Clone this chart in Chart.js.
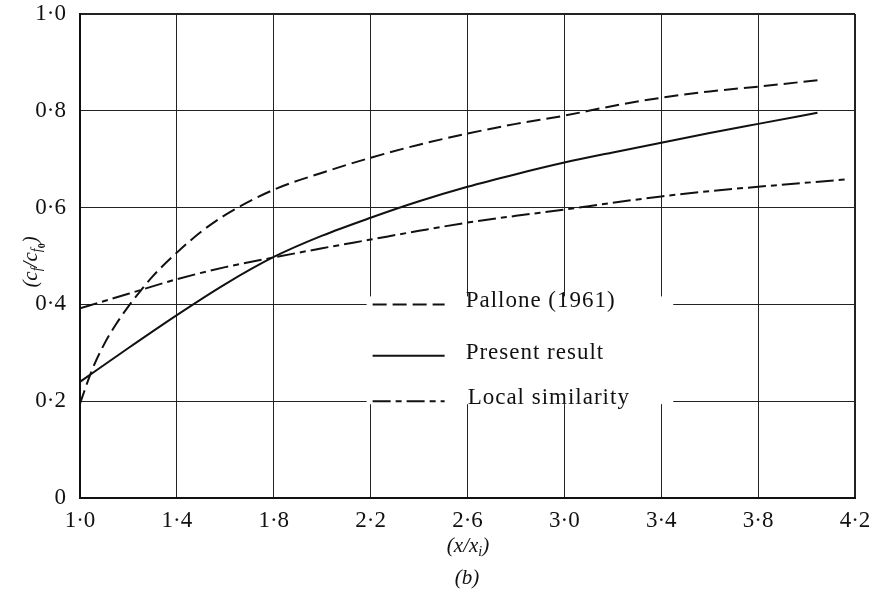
<!DOCTYPE html>
<html><head><meta charset="utf-8">
<script src="https://cdn.jsdelivr.net/npm/chart.js@4.4.0/dist/chart.umd.min.js"></script>
<style>html,body{margin:0;padding:0;background:#fff}#wrap{width:873px;height:594px}</style>
</head><body><div id="wrap"><canvas id="c" width="873" height="594"></canvas></div>
<script>
// ---- data ----
const xTickValues = [1.0, 1.4, 1.8, 2.2, 2.6, 3.0, 3.4, 3.8, 4.2];
const xTickLabels = ['1·0', '1·4', '1·8', '2·2', '2·6', '3·0', '3·4', '3·8', '4·2'];
const yTickValues = [0, 0.2, 0.4, 0.6, 0.8, 1.0];
const yTickLabels = ['0', '0·2', '0·4', '0·6', '0·8', '1·0'];
const seriesNames = ['Pallone (1961)', 'Present result', 'Local similarity'];

const palloneX = [1.0, 1.05, 1.1, 1.15, 1.2, 1.25, 1.3, 1.4, 1.5, 1.6, 1.8, 2.0, 2.2, 2.4, 2.6, 2.8, 3.0, 3.2, 3.4, 3.6, 3.8, 4.06];
const palloneY = [0.195, 0.265, 0.318, 0.36, 0.396, 0.428, 0.458, 0.507, 0.55, 0.585, 0.637, 0.672, 0.703, 0.73, 0.753, 0.773, 0.79, 0.81, 0.827, 0.84, 0.85, 0.864];

const presentX = [1.0, 1.2, 1.4, 1.6, 1.8, 2.0, 2.2, 2.4, 2.6, 2.8, 3.0, 3.2, 3.4, 3.6, 3.8, 4.045];
const presentY = [0.24, 0.31, 0.378, 0.442, 0.498, 0.542, 0.579, 0.613, 0.643, 0.669, 0.693, 0.714, 0.734, 0.754, 0.773, 0.796];

const localX = [1.0, 1.2, 1.4, 1.6, 1.8, 2.0, 2.2, 2.4, 2.6, 2.8, 3.0, 3.2, 3.4, 3.6, 3.8, 4.16];
const localY = [0.392, 0.422, 0.452, 0.477, 0.497, 0.516, 0.534, 0.552, 0.569, 0.583, 0.596, 0.61, 0.623, 0.634, 0.643, 0.658];

const dashes = [[14, 6], [], [18, 5, 6, 5]];

function pts(xs, ys) { return xs.map((x, i) => ({x: x, y: ys[i]})); }

const SERIF = '"Liberation Serif", "DejaVu Serif", serif';

const legendPlugin = {
  id: 'legendBox',
  afterDatasetsDraw(chart) {
    const ctx = chart.ctx, xs = chart.scales.x, ys = chart.scales.y;
    const left = xs.getPixelForValue(2.2) - 4;
    const right = xs.getPixelForValue(3.4) + 12;
    const top = ys.getPixelForValue(0.4) - 8;
    const bottom = ys.getPixelForValue(0.2) + 3;
    ctx.save();
    ctx.fillStyle = '#fff';
    ctx.fillRect(left, top, right - left, bottom - top);
    const rowsY = [ys.getPixelForValue(0.4), ys.getPixelForValue(0.3) + 3, ys.getPixelForValue(0.2)];
    const sx0 = left + 6, sx1 = left + 78;
    ctx.strokeStyle = '#111';
    ctx.lineWidth = 2;
    ctx.font = '23px ' + SERIF;
    try { ctx.letterSpacing = '1px'; } catch (e) {}
    ctx.fillStyle = '#111';
    ctx.textBaseline = 'middle';
    ctx.textAlign = 'left';
    for (let i = 0; i < 3; i++) {
      ctx.setLineDash(dashes[i]);
      ctx.beginPath();
      ctx.moveTo(sx0, rowsY[i]);
      ctx.lineTo(sx1, rowsY[i]);
      ctx.stroke();
      ctx.fillText(seriesNames[i], left + 99 + (i === 2 ? 2 : 0), rowsY[i] - 3);
    }
    ctx.restore();
  }
};

const titlePlugin = {
  id: 'titles',
  afterDraw(chart) {
    const ctx = chart.ctx;
    ctx.save();
    ctx.fillStyle = '#111';
    ctx.textBaseline = 'alphabetic';
    // x title (x/x_i)
    const cx = 468;
    const big = 'italic 21px ' + SERIF, small = 'italic 14px ' + SERIF;
    const p1 = '(x/x', p2 = ')';
    ctx.font = big; const w1 = ctx.measureText(p1).width;
    ctx.font = small; const wi = ctx.measureText('i').width;
    ctx.font = big; const w2 = ctx.measureText(p2).width;
    let x = cx - (w1 + wi + w2) / 2;
    const by = 552;
    ctx.font = big; ctx.fillText(p1, x, by); x += w1;
    ctx.font = small; ctx.fillText('i', x, by + 4); x += wi;
    ctx.font = big; ctx.fillText(p2, x, by);
    // (b)
    ctx.font = big;
    ctx.textAlign = 'center';
    ctx.fillText('(b)', cx - 1, 584);
    ctx.textAlign = 'left';
    // y title (c_f / c_f0)
    ctx.translate(31, 262);
    ctx.rotate(-Math.PI / 2);
    const yb = 'italic 21px ' + SERIF, ys1 = 'italic 14px ' + SERIF, ys2 = 'bold 10px ' + SERIF;
    const parts = [['(c', yb, 0], ['f', ys1, 4], ['/c', yb, 0], ['f', ys1, 4], ['0', ys2, 8], [')', yb, 0]];
    let tw = 0;
    parts.forEach(p => { ctx.font = p[1]; tw += ctx.measureText(p[0]).width; });
    let px = -tw / 2;
    parts.forEach(p => { ctx.font = p[1]; ctx.fillText(p[0], px, 6 + p[2]); px += ctx.measureText(p[0]).width; });
    ctx.restore();
  }
};

const edgeWidth = (edgeA, edgeB) => (c) => {
  const v = c.tick ? c.tick.value : null;
  return (Math.abs(v - edgeA) < 1e-6 || Math.abs(v - edgeB) < 1e-6) ? 2 : 1;
};

function zeroPad(s) { s.paddingTop = 0; s.paddingBottom = 0; s.paddingLeft = 0; s.paddingRight = 0; }

new Chart(document.getElementById('c'), {
  type: 'line',
  data: {
    datasets: [
      {label: seriesNames[0], data: pts(palloneX, palloneY), borderDash: dashes[0]},
      {label: seriesNames[1], data: pts(presentX, presentY), borderDash: dashes[1]},
      {label: seriesNames[2], data: pts(localX, localY), borderDash: dashes[2]}
    ].map(d => Object.assign(d, {borderColor: '#111', borderWidth: 2, pointRadius: 0, fill: false,
      tension: 0.4, cubicInterpolationMode: 'monotone'}))
  },
  options: {
    responsive: false,
    animation: false,
    devicePixelRatio: 1,
    layout: {padding: {top: 14, right: 18, left: 0, bottom: 0}},
    plugins: {legend: {display: false}, tooltip: {enabled: false}},
    scales: {
      x: {
        type: 'linear', min: 1.0, max: 4.2,
        afterBuildTicks: s => { s.ticks = xTickValues.map(v => ({value: v})); },
        afterFit: s => { s.height = 96; zeroPad(s); },
        ticks: {callback: (v, i) => xTickLabels[i], color: '#111', padding: 9, maxRotation: 0,
          font: {family: SERIF, size: 23}},
        grid: {color: '#222', lineWidth: edgeWidth(1.0, 4.2), drawTicks: false},
        border: {display: true, color: '#111', width: 2}
      },
      y: {
        type: 'linear', min: 0, max: 1.0,
        afterBuildTicks: s => { s.ticks = yTickValues.map(v => ({value: v})); },
        afterFit: s => { s.width = 80; zeroPad(s); },
        ticks: {callback: (v, i) => yTickLabels[i], color: '#111', padding: 14,
          font: {family: SERIF, size: 23}},
        grid: {color: '#222', lineWidth: edgeWidth(0, 1.0), drawTicks: false},
        border: {display: true, color: '#111', width: 2}
      }
    }
  },
  plugins: [legendPlugin, titlePlugin]
});
</script></body></html>
